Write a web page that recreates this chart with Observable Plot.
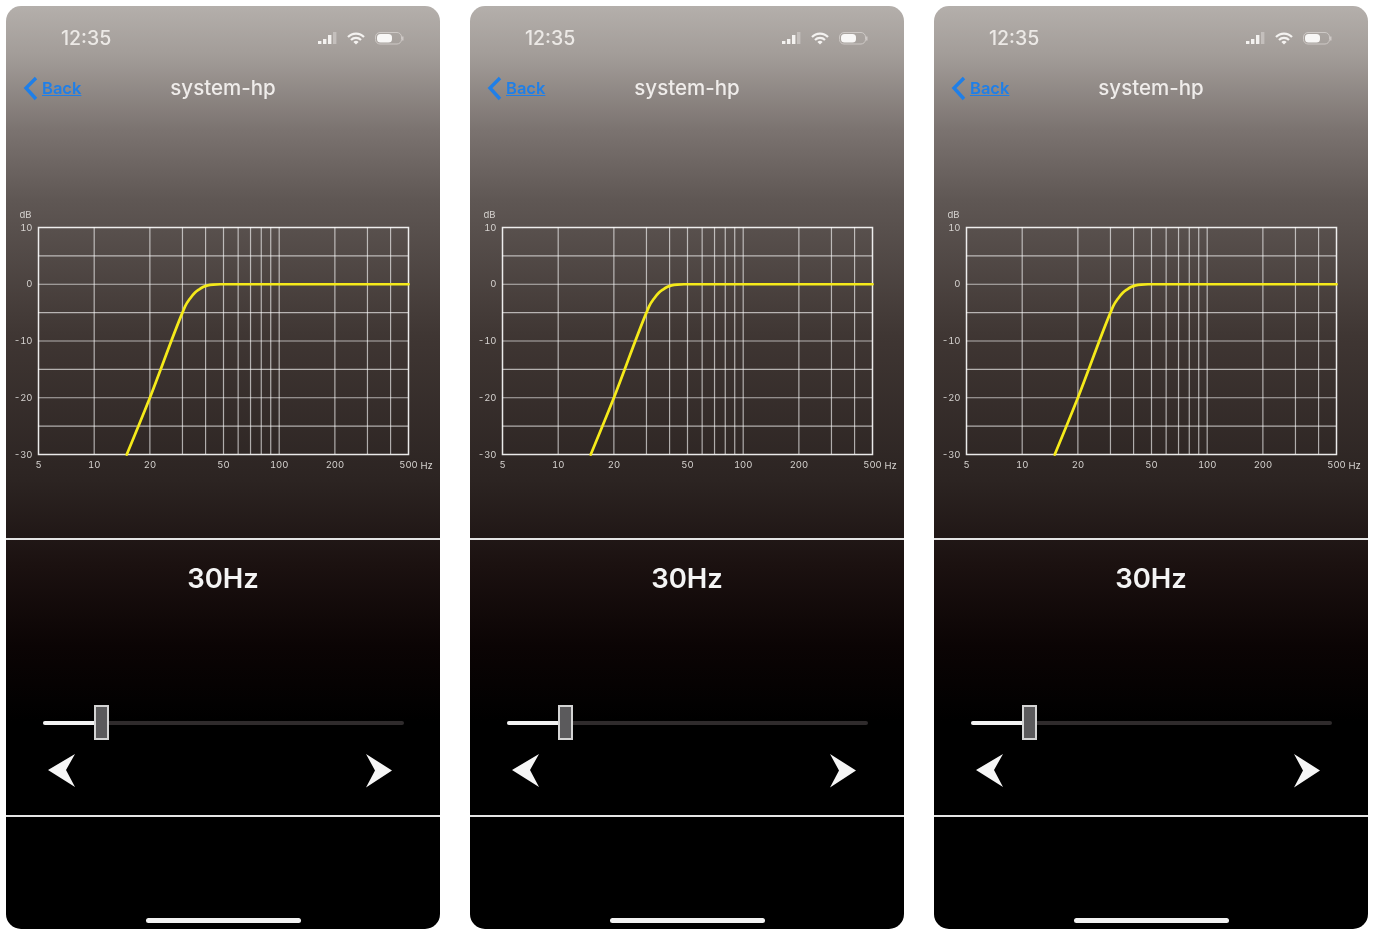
<!DOCTYPE html>
<html><head><meta charset="utf-8">
<script src="https://cdn.jsdelivr.net/npm/d3@7"></script>
<script src="https://cdn.jsdelivr.net/npm/@observablehq/plot@0.6"></script>
<style>
html,body{margin:0;padding:0;background:#fff;overflow:hidden}
body{width:1375px;height:929px;position:relative;font-family:Inter,sans-serif}
.phone{position:absolute;top:6px;width:434px;height:923px;border-radius:15px;overflow:hidden;
 background:linear-gradient(180deg,#b4afab 0px,#a29c98 50px,#7b7370 124px,#5f5754 194px,#3f3633 330px,#2c2422 474px,#1b1110 560px,#0b0404 640px,#000 715px)}
.abs{position:absolute}
.inner{position:absolute;inset:0;filter:blur(.4px)}
.time{left:55px;top:20px;font-size:19.5px;font-weight:500;color:#ece9e6;line-height:24px}
.title{left:0;width:434px;text-align:center;top:70px;font-size:20.5px;font-weight:500;line-height:24px;color:#efecea}
.back{left:36px;top:72px;font-size:16.5px;line-height:20px;color:#1f7fe8;font-weight:600;text-decoration:underline}
.freq{left:0;width:434px;text-align:center;top:555px;font-size:27.5px;line-height:34px;font-weight:600;color:#f4f4f4}
.hr{left:0;width:434px;height:2px;background:#e4e4e4}
.track{left:37px;top:715px;width:361px;height:4px;border-radius:2px;background:#2f2b2c}
.fill{left:37px;top:715px;width:54px;height:4px;border-radius:2px;background:#f2f2f2}
.thumb{left:88px;top:699px;width:11px;height:31px;background:#5b5a5c;border:2px solid #d4d4d4}
.home{left:140px;top:912px;width:155px;height:4.5px;border-radius:3px;background:#f2f2f2}
svg.plot{position:absolute;left:-0.4px;top:193.6px;background:transparent;overflow:visible}
</style></head><body>
<script>
const panelLefts = [6, 470, 934];
const hzTicks = [5, 10, 20, 50, 100, 200, 500];
const hzGrid = [10, 20, 30, 40, 50, 60, 70, 80, 90, 100, 200, 300, 400];
const dbTicks = [-30, -20, -10, 0, 10];
const dbGrid = [-25, -20, -15, -10, -5, 0, 5];
const curveHz = [15, 20, 30, 31, 33, 35, 37, 39, 41, 44, 48, 60, 500];
const curveDb = [-30, -20, -5, -3.9, -2.5, -1.5, -0.9, -0.45, -0.2, -0.05, 0, 0, 0];
const labels = {time: "12:35", title: "system-hp", back: "Back", freq: "30Hz", db: "dB", hz: "Hz"};

const curve = curveHz.map((hz, i) => ({hz, db: curveDb[i]}));
const textColor = "#d6d3d0";

function chart() {
  return Plot.plot({
    width: 434, height: 286,
    marginLeft: 32, marginRight: 32, marginTop: 27, marginBottom: 32,
    className: "plot",
    style: {background: "transparent", fontFamily: "Inter,sans-serif", fontSize: "9.5px", overflow: "visible"},
    x: {type: "log", domain: [5, 500]},
    y: {domain: [-30, 10]},
    marks: [
      Plot.ruleX(hzGrid, {stroke: "#fff", strokeOpacity: 0.62, strokeWidth: 1.2}),
      Plot.ruleY(dbGrid, {stroke: "#fff", strokeOpacity: 0.62, strokeWidth: 1.2}),
      Plot.frame({stroke: "#fff", strokeOpacity: 0.9, strokeWidth: 1.5}),
      Plot.axisX({ticks: hzTicks, tickFormat: d => String(d), tickSize: 0, tickPadding: 6.5, label: null, color: textColor}),
      Plot.axisY({ticks: dbTicks, tickFormat: d => String(d), tickSize: 0, tickPadding: 6, label: null, color: textColor}),
      Plot.text([labels.db], {text: d => d, x: 5, y: 10, dx: -13, dy: -13, fill: textColor}),
      Plot.text([labels.hz], {text: d => d, x: 500, y: -30, dx: 12, dy: 11, textAnchor: "start", fill: textColor}),
      Plot.line(curve, {x: "hz", y: "db", stroke: "#f5ea1a", strokeWidth: 2.7, curve: "monotone-x"})
    ]
  });
}

const icons = `
<svg class="abs" style="left:300px;top:20px;overflow:visible" width="110" height="24">
  <g fill="#f4f2f0"><rect x="12" y="15" width="3.4" height="3"/><rect x="17" y="13" width="3.4" height="5"/><rect x="22" y="9" width="3.4" height="9"/></g>
  <rect x="27" y="6" width="3.4" height="12" fill="#c4bfbc"/>
  <path d="M42 11 A11 11 0 0 1 58 11 M45 14 A7 7 0 0 1 55 14" fill="none" stroke="#f4f2f0" stroke-width="2.2"/>
  <path d="M47.4 16 A3.6 3.6 0 0 1 52.6 16 L50 18.6 Z" fill="#f4f2f0"/>
  <rect x="69.5" y="6.5" width="26" height="11.5" rx="4.5" fill="none" stroke="#cdc8c5" stroke-width="1"/>
  <rect x="71" y="8" width="15" height="8.5" rx="3.5" fill="#f8f7f6"/>
  <rect x="96" y="10.5" width="1.5" height="4" fill="#cdc8c5"/>
</svg>`;
const chevron = `<svg class="abs" style="left:17px;top:70px" width="16" height="26"><path d="M13 2 L3 12 L13 23" fill="none" stroke="#1f7fe8" stroke-width="3.4"/></svg>`;
const arrows = `<svg class="abs" style="left:0;top:740px" width="434" height="50">
  <path d="M42 24 L69 8 L60 24 L69 41 Z" fill="#f6f6f6"/>
  <path d="M386 24.5 L360 8 L369 24.5 L360 41.5 Z" fill="#f6f6f6"/>
</svg>`;

for (const left of panelLefts) {
  const phone = document.createElement("div");
  phone.className = "phone";
  phone.style.left = left + "px";
  const inner = document.createElement("div");
  inner.className = "inner";
  inner.innerHTML = `
    <div class="abs time">${labels.time}</div>${icons}${chevron}
    <div class="abs back">${labels.back}</div>
    <div class="abs title">${labels.title}</div>
    <div class="abs hr" style="top:532px"></div>
    <div class="abs freq">${labels.freq}</div>
    <div class="abs track"></div><div class="abs fill"></div><div class="abs thumb"></div>
    ${arrows}
    <div class="abs hr" style="top:808.5px"></div>
    <div class="abs home"></div>`;
  inner.appendChild(chart());
  phone.appendChild(inner);
  document.body.appendChild(phone);
}
</script>
</body></html>
